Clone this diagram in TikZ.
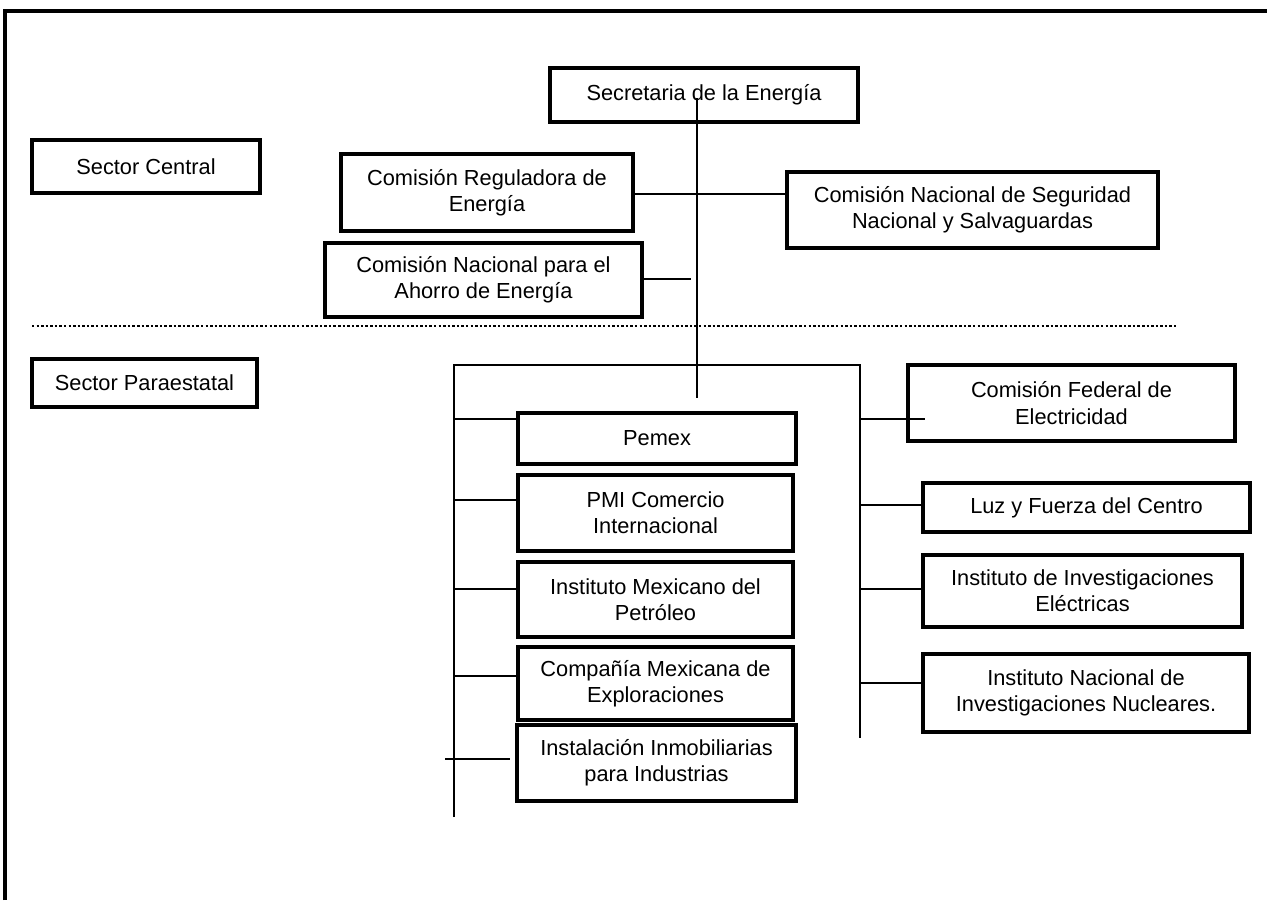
\documentclass[tikz,border=0pt]{standalone}
\usepackage{fontspec}
\setmainfont{Liberation Sans}
\usepackage{tikz}

\begin{document}
\begin{tikzpicture}[x=0.02cm,y=-0.02cm,
  every node/.style={font=\fontsize{12.4}{15}\selectfont},
  box/.style={draw,line width=1.8pt,align=center,inner sep=2pt},
  boxsize/.style 2 args={minimum width=#1*0.02cm,minimum height=#2*0.02cm},
  link/.style={line width=1.1pt},
  frame/.style={line width=2pt},
  sepline/.style={line width=1.4pt,dash pattern=on 1.4pt off 1.2pt},
  ]
  \useasboundingbox (0,0) rectangle (1267,900);

  %─── Frame ─────────────────────────────────────────────────────────────────
  \draw[frame] (5,900) -- (5,11) -- (1267,11);

  %─── Sector labels ─────────────────────────────────────────────────────────
  \node[box,boxsize={228}{53}] (central) at (146,166.5) {Sector Central};
  \node[box,boxsize={225}{48}] (parae) at (144.5,383) {Sector Paraestatal};

  %─── Sector Central ────────────────────────────────────────────────────────
  \node[box,boxsize={308}{54}] (secre) at (704,95)
    {Secretaria de la Energía};
  \node[box,boxsize={292}{77}] (cre) at (487,192.5)
    {Comisión Reguladora de\\Energía};
  \node[box,boxsize={371}{76}] (cnsns) at (972.5,210)
    {Comisión Nacional de Seguridad\\Nacional y Salvaguardas};
  \node[box,boxsize={317}{74}] (conae) at (483.5,280)
    {Comisión Nacional para el\\Ahorro de Energía};

  %─── Separator ─────────────────────────────────────────────────────────────
  \draw[sepline] (32,326) -- (1178,326);

  %─── Sector Paraestatal, hydrocarbons ──────────────────────────────────────
  \node[box,boxsize={278}{51}] (pemex) at (657,438.5) {Pemex};
  \node[box,boxsize={275}{76}] (pmi) at (655.5,513)
    {PMI Comercio\\Internacional};
  \node[box,boxsize={275}{75}] (imp) at (655.5,599.5)
    {Instituto Mexicano del\\Petróleo};
  \node[box,boxsize={275}{73}] (comesa) at (655.5,683.5)
    {Compañía Mexicana de\\Exploraciones};
  \node[box,boxsize={279}{76}] (iii) at (656.5,763)
    {Instalación Inmobiliarias\\para Industrias};

  %─── Sector Paraestatal, electricity ───────────────────────────────────────
  \node[box,boxsize={327}{76}] (cfe) at (1071.5,403)
    {Comisión Federal de\\Electricidad};
  \node[box,boxsize={327}{49}] (lyf) at (1086.5,507.5)
    {Luz y Fuerza del Centro};
  \node[box,boxsize={319}{72}] (iie) at (1082.5,591)
    {Instituto de Investigaciones\\Eléctricas};
  \node[box,boxsize={326}{78}] (inin) at (1086,693)
    {Instituto Nacional de\\Investigaciones Nucleares.};

  %─── Trunk and buses ───────────────────────────────────────────────────────
  \coordinate (trunk) at (697,98);
  \coordinate (fork) at (697,365);
  \coordinate (lbus) at (454,365);
  \coordinate (rbus) at (860,365);
  \coordinate (conaeend) at (691,279);

  \draw[link] (trunk) -- (697,398);
  \draw[link] (lbus |- 0,817) -- (lbus) -- (rbus) -- (rbus |- 0,738);

  \draw[link] (cre.east |- 0,194) -- (cnsns.west |- 0,194);
  \draw[link] (conae.east |- conaeend) -- (conaeend);

  % left stubs
  \foreach \n/\y in {pemex/419,pmi/500,imp/589,comesa/676}
    \draw[link] (lbus |- 0,\y) -- (\n.west |- 0,\y);
  \draw[link] (445,759) -- ([xshift=-0.1cm]iii.west |- 0,759);

  % right stubs
  \draw[link] (rbus |- 0,419) -- (925,419);
  \foreach \n/\y in {lyf/505,iie/589,inin/683}
    \draw[link] (rbus |- 0,\y) -- (\n.west |- 0,\y);

\end{tikzpicture}
\end{document}
